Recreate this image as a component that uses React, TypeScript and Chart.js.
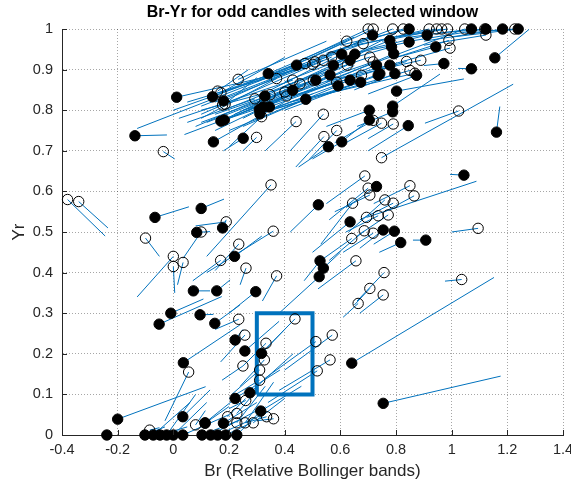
import React, { useEffect, useRef } from 'react';
import { Chart, registerables } from 'chart.js';

Chart.register(...registerables);

const TITLE = 'Br-Yr for odd candles with selected window';
const X_LABEL = 'Br (Relative Bollinger bands)';
const Y_LABEL = 'Yr';

const xTicks = [-0.4, -0.2, 0, 0.2, 0.4, 0.6, 0.8, 1, 1.2, 1.4];
const yTicks = [0, 0.1, 0.2, 0.3, 0.4, 0.5, 0.6, 0.7, 0.8, 0.9, 1];

// selected window: Br range and Yr range
const windowBr = [0.3, 0.5];
const windowYr = [0.1, 0.3];

// open markers: [Br, Yr, next Br, next Yr]
const openPoints: number[][] = [
  [-0.38, 0.58, -0.245, 0.49], [-0.34, 0.575, -0.235, 0.51], [-0.1, 0.485, -0.05, 0.44],
  [0.0, 0.44, -0.13, 0.34], [0.0, 0.415, 0.005, 0.35], [0.035, 0.425, 0.015, 0.37],
  [0.1, 0.5, 0.035, 0.435], [0.19, 0.525, 0.08, 0.515], [0.17, 0.43, 0.07, 0.38],
  [0.235, 0.47, 0.15, 0.405], [0.235, 0.285, 0.15, 0.26], [0.055, 0.155, -0.03, 0.035],
  [0.25, 0.17, 0.175, 0.135], [-0.085, 0.012, -0.05, 0.018], [0.08, 0.025, 0.115, 0.06],
  [0.26, 0.085, 0.2, 0.065], [0.195, 0.045, 0.26, 0.09], [0.228, 0.053, 0.3, 0.11],
  [0.228, 0.03, 0.33, 0.12], [0.258, 0.03, 0.36, 0.13], [0.287, 0.03, 0.4, 0.09],
  [0.335, 0.045, 0.26, 0.03], [0.36, 0.04, 0.3, 0.035], [0.31, 0.135, 0.2, 0.09],
  [0.31, 0.16, 0.21, 0.1], [0.327, 0.185, 0.24, 0.12], [0.333, 0.226, 0.25, 0.17],
  [0.257, 0.246, 0.17, 0.18], [0.437, 0.286, 0.3, 0.19], [0.512, 0.23, 0.33, 0.14],
  [0.571, 0.246, 0.4, 0.16], [0.563, 0.185, 0.38, 0.11], [0.517, 0.158, 0.34, 0.08],
  [0.261, 0.411, 0.24, 0.37], [0.371, 0.392, 0.32, 0.33], [0.359, 0.502, 0.12, 0.4],
  [0.641, 0.484, 0.53, 0.43], [0.656, 0.429, 0.52, 0.36], [0.757, 0.4, 0.66, 0.33],
  [0.706, 0.361, 0.65, 0.32], [0.754, 0.345, 0.67, 0.3], [0.664, 0.324, 0.61, 0.29],
  [0.644, 0.571, 0.53, 0.47], [0.736, 0.54, 0.62, 0.5], [0.772, 0.542, 0.66, 0.49],
  [0.686, 0.503, 0.56, 0.43], [0.718, 0.497, 0.61, 0.45], [0.79, 0.571, 0.67, 0.53],
  [0.76, 0.579, 0.63, 0.5], [1.095, 0.509, 1.0, 0.5], [1.036, 0.383, 0.976, 0.379],
  [0.748, 0.683, 1.221, 0.864], [0.688, 0.638, 0.55, 0.57], [0.7, 0.608, 0.56, 0.53],
  [0.706, 0.591, 0.58, 0.55], [0.85, 0.614, 0.72, 0.57], [0.865, 0.589, 0.76, 0.55],
  [0.351, 0.616, 0.12, 0.44], [1.025, 0.798, 0.904, 0.768], [0.694, 0.536, 1.089, 0.625],
  [0.299, 0.733, 0.25, 0.7], [0.441, 0.772, 0.33, 0.7], [0.539, 0.79, 0.42, 0.7],
  [0.587, 0.75, 0.49, 0.68], [0.541, 0.735, 0.44, 0.66], [0.317, 0.784, 0.2, 0.71],
  [0.748, 0.768, 0.62, 0.72], [0.79, 0.766, 0.7, 0.73], [0.718, 0.775, 0.58, 0.72],
  [-0.036, 0.698, 0.005, 0.68], [0.177, 0.813, 0.1, 0.79], [0.186, 0.815, 0.3, 0.88],
  [0.159, 0.847, 0.27, 0.9], [0.171, 0.843, 0.4, 0.93], [0.233, 0.876, 0.55, 0.97],
  [0.371, 0.878, 0.1, 0.78], [0.347, 0.838, 0.08, 0.76], [0.293, 0.828, 0.05, 0.77],
  [0.401, 0.845, 0.12, 0.77], [0.407, 0.835, 0.15, 0.75], [0.429, 0.874, 0.02, 0.78],
  [0.455, 0.865, 0.1, 0.8], [0.503, 0.874, 0.15, 0.79], [0.587, 0.869, 0.2, 0.78],
  [0.676, 0.886, 0.25, 0.8], [0.569, 0.931, 0.2, 0.82], [0.539, 0.923, 0.15, 0.82],
  [0.509, 0.919, 0.1, 0.81], [0.501, 0.913, 0.05, 0.82], [0.473, 0.915, 0.0, 0.8],
  [0.625, 0.911, 0.22, 0.79], [0.623, 0.97, 0.3, 0.87], [0.682, 0.964, 0.35, 0.88],
  [0.706, 0.931, 0.4, 0.86], [0.718, 0.919, 0.3, 0.82], [0.838, 0.92, 0.45, 0.84],
  [0.889, 0.923, 0.55, 0.87], [0.85, 0.898, 0.35, 0.8], [0.868, 0.891, 0.42, 0.82],
  [0.99, 0.972, 0.8, 0.93], [0.994, 0.953, 0.72, 0.9], [1.123, 0.985, 0.9, 0.96],
  [0.7, 1.0, 0.45, 0.92], [0.718, 1.0, 0.5, 0.93], [0.788, 1.0, -0.13, 0.755],
  [0.826, 1.0, 0.55, 0.94], [0.919, 1.0, 0.6, 0.95], [0.946, 1.0, 0.65, 0.96],
  [0.964, 1.0, 0.75, 0.97], [0.985, 1.0, 0.8, 0.98], [1.047, 1.0, 0.04, 0.74],
  [1.119, 1.0, 0.85, 0.97], [1.227, 1.0, 1.05, 0.99],
];

// filled markers: [Br, Yr, next Br, next Yr]
const filledPoints: number[][] = [
  [-0.066, 0.536, 0.056, 0.562], [0.1, 0.558, 0.182, 0.581], [0.084, 0.499, 0.132, 0.501],
  [0.177, 0.51, 0.19, 0.53], [0.22, 0.44, 0.318, 0.49], [0.072, 0.355, 0.132, 0.355],
  [0.156, 0.355, 0.204, 0.382], [-0.009, 0.3, 0.108, 0.335], [-0.051, 0.273, 0.174, 0.341],
  [0.096, 0.296, 0.144, 0.297], [0.149, 0.275, 0.239, 0.32], [0.222, 0.234, 0.25, 0.26],
  [0.036, 0.178, 0.239, 0.271], [-0.2, 0.039, 0.116, 0.119], [-0.239, 0, -0.239, 0],
  [0.034, 0.045, 0.132, 0.111], [0.114, 0.03, 0.239, 0.099], [0.222, 0.09, 0.383, 0.16],
  [0.275, 0.104, 0.43, 0.2], [0.314, 0.059, 0.46, 0.12], [0.317, 0.201, 0.4, 0.26],
  [0.257, 0.207, 0.38, 0.28], [0.296, 0.353, 0.2, 0.3], [0.18, 0.029, 0.3, 0.08],
  [0.114, 0.029, 0.2, 0.07],
  [-0.102, 0, -0.03, 0.02], [-0.072, 0, 0.06, 0.08], [-0.048, 0, 0.05, 0.02],
  [-0.024, 0, 0.08, 0.1], [0.0, 0, 0.12, 0.08], [0.034, 0, 0.2, 0.05],
  [0.103, 0, 0.25, 0.04], [0.134, 0, 0.3, 0.06], [0.159, 0, 0.32, 0.05],
  [0.188, 0, 0.28, 0.03], [0.228, 0, 0.33, 0.07],
  [0.641, 0.177, 1.152, 0.388], [0.754, 0.078, 1.176, 0.145],
  [0.521, 0.567, 0.42, 0.5], [0.635, 0.525, 0.5, 0.45], [0.754, 0.505, 0.67, 0.46],
  [0.794, 0.502, 0.72, 0.47], [0.817, 0.474, 0.74, 0.45], [0.907, 0.48, 0.861, 0.48],
  [0.527, 0.429, 0.47, 0.38], [0.539, 0.411, 0.6, 0.45], [0.524, 0.39, 0.38, 0.3],
  [0.73, 0.612, 0.62, 0.56], [1.044, 0.64, 0.994, 0.642], [1.161, 0.746, 1.173, 0.809],
  [0.844, 0.762, 0.7, 0.7], [0.802, 0.847, 1.044, 0.877], [0.788, 0.81, 0.958, 0.889],
  [0.788, 0.796, 0.66, 0.76], [0.704, 0.8, 0.55, 0.76], [0.704, 0.776, 0.6, 0.72],
  [0.605, 0.722, 0.5, 0.68], [0.557, 0.71, 0.45, 0.66], [0.251, 0.731, 0.18, 0.7],
  [0.012, 0.832, 0.45, 0.9], [-0.138, 0.737, -0.023, 0.739], [0.141, 0.833, 0.5, 0.93],
  [0.18, 0.823, 0.6, 0.95], [0.171, 0.773, 0.55, 0.9], [0.183, 0.776, 0.45, 0.85],
  [0.144, 0.722, 0.4, 0.82], [0.476, 0.827, 0.25, 0.76], [0.329, 0.835, 0.6, 0.92],
  [0.323, 0.808, 0.7, 0.95], [0.309, 0.802, 0.65, 0.91], [0.345, 0.808, 0.55, 0.86],
  [0.311, 0.791, 0.5, 0.84], [0.341, 0.89, 0.65, 0.98], [0.443, 0.911, 0.15, 0.84],
  [0.429, 0.849, 0.2, 0.78], [0.512, 0.874, 0.1, 0.77], [0.592, 0.86, 0.2, 0.75],
  [0.563, 0.887, 0.25, 0.78], [0.635, 0.874, 0.3, 0.79], [0.673, 0.869, 0.35, 0.8],
  [0.736, 0.886, 0.4, 0.8], [0.575, 0.911, 0.8, 0.99], [0.635, 0.923, 0.18, 0.8],
  [0.605, 0.938, 0.35, 0.85], [0.652, 0.938, 0.4, 0.87], [0.716, 0.985, 0.45, 0.9],
  [0.742, 0.89, 0.55, 0.84], [0.73, 0.911, 0.5, 0.85], [0.778, 0.911, 0.6, 0.88],
  [0.796, 0.89, 0.65, 0.85], [0.874, 0.886, 0.7, 0.84], [0.778, 0.972, 0.55, 0.91],
  [0.784, 0.956, 0.6, 0.92], [0.792, 0.939, 0.42, 0.83], [0.847, 0.968, 0.65, 0.94],
  [0.912, 0.985, 0.7, 0.95], [0.943, 0.956, 0.8, 0.93], [0.972, 0.915, 0.9, 0.91],
  [1.071, 0.902, 1.023, 0.903], [1.155, 0.929, 1.278, 0.999], [0.847, 1.0, 0.6, 0.96],
  [1.071, 1.0, 0.85, 0.98], [1.123, 1.0, 0.95, 0.99], [1.183, 1.0, 0.9, 0.97],
  [1.239, 1.0, 1.0, 0.98],
];

const BLUE = '#0072BD';
const AXIS = '#262626';
const FONT = '"Liberation Sans", Arial, Helvetica, sans-serif';

function segments(points: number[][]) {
  const out: { x: number; y: number }[] = [];
  for (const [x, y, ex, ey] of points) {
    out.push({ x, y }, { x: ex, y: ey }, { x: NaN, y: NaN });
  }
  return out;
}

const decor = {
  id: 'decor',
  afterDraw(chart: any) {
    const { ctx, chartArea: a, scales } = chart;
    const x = scales.x;
    const y = scales.y;
    ctx.save();
    ctx.strokeStyle = AXIS;
    ctx.lineWidth = 1;
    ctx.beginPath();
    for (const v of xTicks) {
      const px = Math.round(x.getPixelForValue(v)) + 0.5;
      ctx.moveTo(px, a.bottom);
      ctx.lineTo(px, a.bottom - 5);
    }
    for (const v of yTicks) {
      const py = Math.round(y.getPixelForValue(v)) + 0.5;
      ctx.moveTo(a.left, py);
      ctx.lineTo(a.left + 5, py);
    }
    ctx.stroke();
    ctx.fillStyle = '#000';
    ctx.textAlign = 'center';
    ctx.textBaseline = 'middle';
    ctx.font = `bold 16px ${FONT}`;
    ctx.fillText(TITLE, (a.left + a.right) / 2, 13);
    ctx.fillStyle = AXIS;
    ctx.font = `17px ${FONT}`;
    ctx.fillText(X_LABEL, (a.left + a.right) / 2, 471);
    ctx.translate(19, (a.top + a.bottom) / 2);
    ctx.rotate(-Math.PI / 2);
    ctx.fillText(Y_LABEL, 0, 0);
    ctx.restore();
  },
};

export default function App() {
  const ref = useRef<HTMLCanvasElement | null>(null);

  useEffect(() => {
    if (!ref.current) return;
    const rect = [
      { x: windowBr[0], y: windowYr[0] },
      { x: windowBr[0], y: windowYr[1] },
      { x: windowBr[1], y: windowYr[1] },
      { x: windowBr[1], y: windowYr[0] },
      { x: windowBr[0], y: windowYr[0] },
    ];
    const markerCommon = {
      showLine: false,
      pointRadius: 5.2,
      pointBorderWidth: 1,
      pointBorderColor: '#000',
      clip: false as any,
    };
    const chart = new Chart(ref.current, {
      type: 'scatter',
      data: {
        datasets: [
          { ...markerCommon, label: 'filled', data: filledPoints.map(([x, y]) => ({ x, y })), pointBackgroundColor: '#000' },
          { ...markerCommon, label: 'open', data: openPoints.map(([x, y]) => ({ x, y })), pointBackgroundColor: 'rgba(0,0,0,0)' },
          {
            label: 'moves',
            data: segments([...openPoints, ...filledPoints]),
            showLine: true,
            spanGaps: false,
            borderColor: BLUE,
            borderWidth: 1,
            pointRadius: 0,
            clip: false as any,
          },
          {
            label: 'window',
            data: rect,
            showLine: true,
            borderColor: BLUE,
            borderWidth: 4,
            pointRadius: 0,
            borderJoinStyle: 'miter',
            clip: false as any,
          },
        ],
      },
      options: {
        responsive: false,
        animation: false,
        devicePixelRatio: 1,
        events: [],
        layout: { padding: { top: 29, right: 8, left: 0, bottom: 0 } },
        plugins: { legend: { display: false }, tooltip: { enabled: false }, title: { display: false } },
        scales: {
          x: {
            type: 'linear',
            min: -0.4,
            max: 1.4,
            afterBuildTicks: (s: any) => { s.ticks = xTicks.map((v) => ({ value: v })); },
            afterFit: (s: any) => { s.height = 53; s.paddingLeft = 0; s.paddingRight = 0; },
            grid: { color: 'rgba(0,0,0,0.35)', drawTicks: false, lineWidth: 1 },
            border: { display: true, color: AXIS, width: 1, dash: [1, 2] },
            ticks: {
              padding: 6, color: AXIS, autoSkip: false, maxRotation: 0,
              font: { family: FONT, size: 14.5 },
              callback: (v: any) => String(v),
            },
          },
          y: {
            type: 'linear',
            min: 0,
            max: 1,
            afterBuildTicks: (s: any) => { s.ticks = yTicks.map((v) => ({ value: v })); },
            afterFit: (s: any) => { s.width = 62; s.paddingTop = 0; s.paddingBottom = 0; },
            grid: { color: 'rgba(0,0,0,0.35)', drawTicks: false, lineWidth: 1 },
            border: { display: true, color: AXIS, width: 1, dash: [1, 2] },
            ticks: {
              padding: 9, color: AXIS, autoSkip: false,
              font: { family: FONT, size: 14.5 },
              callback: (v: any) => String(v),
            },
          },
        },
      },
      plugins: [decor],
    });
    return () => chart.destroy();
  }, []);

  return (
    <div style={{ position: 'absolute', left: 0, top: 0, width: 571, height: 488, background: '#fff' }}>
      <canvas ref={ref} width={571} height={488} style={{ display: 'block' }} />
    </div>
  );
}
